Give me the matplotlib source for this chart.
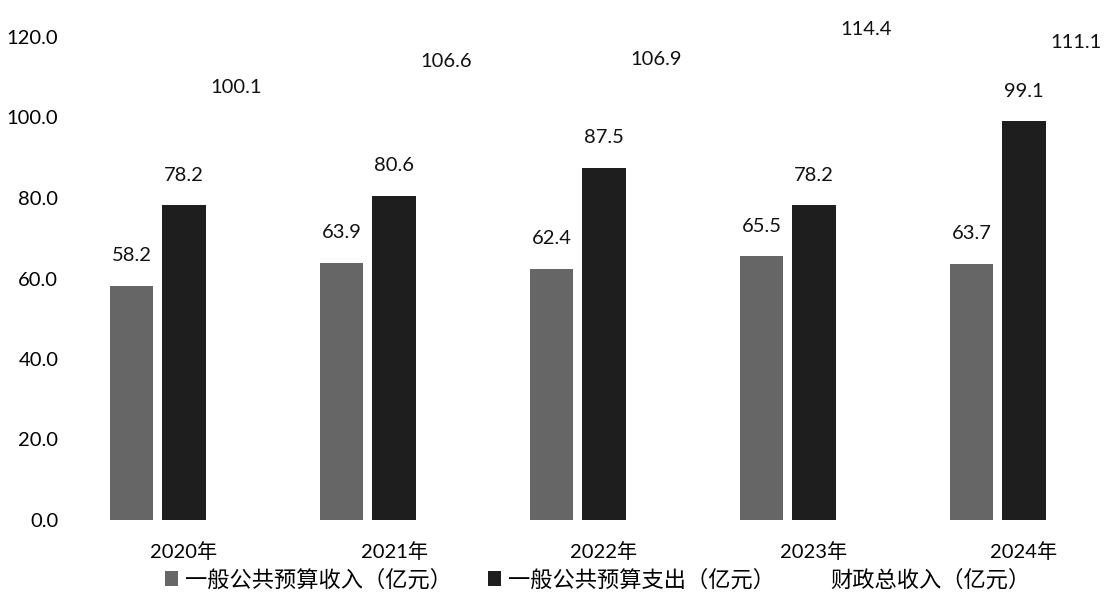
import matplotlib.pyplot as plt
import numpy as np

plt.rcParams['font.family'] = ['Lato', 'Noto Sans CJK SC', 'DejaVu Sans']

# 数据
years = ['2020年', '2021年', '2022年', '2023年', '2024年']
budget_income = [58.2, 63.9, 62.4, 65.5, 63.7]
budget_spend = [78.2, 80.6, 87.5, 78.2, 99.1]
total_income = [100.1, 106.6, 106.9, 114.4, 111.1]
names = ['一般公共预算收入（亿元）', '一般公共预算支出（亿元）', '财政总收入（亿元）']

fig = plt.figure(figsize=(11.06, 5.92), dpi=100)
# 画布像素: x 75..1100, y 37..520
ax = fig.add_axes([75 / 1106, 1 - 520 / 592, 1025 / 1106, 483 / 592])

x = np.arange(len(years))
w = 0.205
off = 0.248
b1 = ax.bar(x - off, budget_income, w, color='#666666', label=names[0])
b2 = ax.bar(x, budget_spend, w, color='#1e1e1e', label=names[1])
b3 = ax.bar(x + off, total_income, w, color='none', label=names[2])

# 数值标签
for bars, vals in [(b1, budget_income), (b2, budget_spend), (b3, total_income)]:
    for r, v in zip(bars, vals):
        ax.annotate(f'{v:.1f}', (r.get_x() + r.get_width() / 2, v),
                    xytext=(0, 21.5), textcoords='offset points',
                    ha='center', va='center', fontsize=14.5, color='#111111',
                    annotation_clip=False)

ax.set_xlim((75 - 184) / 210, (1100 - 184) / 210)
ax.set_ylim(0, 120)
ax.set_yticks(np.arange(0, 121, 20))
ax.set_yticklabels([f'{t:.1f}' for t in np.arange(0, 121, 20)], fontsize=14.5)
ax.set_xticks(x)
ax.set_xticklabels(years, fontsize=14.5)
ax.tick_params(length=0)
ax.tick_params(axis='x', pad=16)
ax.tick_params(axis='y', pad=12)
for s in ax.spines.values():
    s.set_visible(False)

ax.legend(loc='upper center', bbox_to_anchor=(0.51, -0.06), ncol=3,
          frameon=False, fontsize=16, handlelength=0.6, handleheight=0.6,
          handletextpad=0.3, columnspacing=1.6)

plt.savefig('out.png', dpi=100)
